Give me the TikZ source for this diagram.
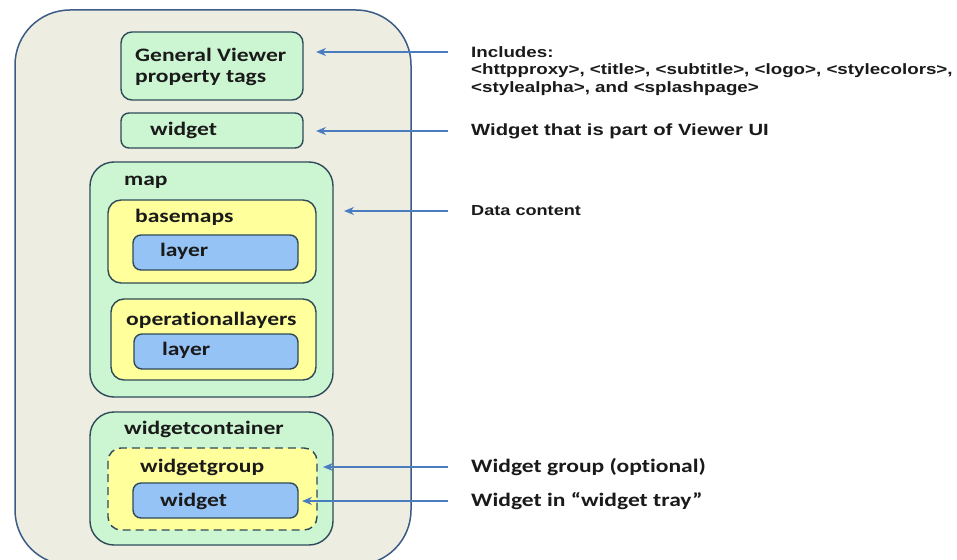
\documentclass[tikz,border=0pt]{standalone}
\usepackage{fontspec}
\setmainfont[FakeStretch=1.24, Ligatures=NoCommon]{Carlito}
\newfontfamily\arialfont[FakeStretch=1.25]{Liberation Sans}
\usetikzlibrary{arrows.meta}
\definecolor{outerfill}{HTML}{EDEDE1}
\definecolor{outerline}{HTML}{3C5B86}
\definecolor{boxline}{HTML}{2E4A58}
\definecolor{mintfill}{HTML}{CCF6D2}
\definecolor{lemonfill}{HTML}{FFFF9C}
\definecolor{skyfill}{HTML}{96C3F5}
\definecolor{arrowblue}{HTML}{4A7CC0}
\definecolor{txt}{HTML}{1A1A1A}
\tikzset{
  px/.style={x=1pt,y=-1pt},
  boxlabel/.style={font=\bfseries\fontsize{19}{23}\selectfont, text=txt, inner sep=0pt},
  tagnote/.style={font=\arialfont\bfseries\fontsize{15}{18}\selectfont, text=txt, inner sep=0pt, anchor=west},
  mint/.style={draw=boxline, line width=1.4pt, fill=mintfill},
  lemon/.style={draw=boxline, line width=1.4pt, fill=lemonfill},
  sky/.style={draw=boxline, line width=1.4pt, fill=skyfill},
  pointer/.style={draw=arrowblue, line width=1.4pt, -{Stealth[length=10pt,width=8pt]}},
}
\begin{document}
\begin{tikzpicture}[px]
\useasboundingbox (0,0) rectangle (957,559);
\fill[white] (0,0) rectangle (957,559);

% outer container
\draw[draw=outerline, line width=1.5pt, fill=outerfill, rounded corners=55pt]
  (15,10) rectangle (411,565);

% top-level tags
\draw[mint, rounded corners=11pt] (121,32) rectangle (303,100);
\node[boxlabel, anchor=west] (gv) at (135,55) {General Viewer};
\node[boxlabel, anchor=west] (gvb) at (135,78) {property tags};
\coordinate (gvR) at (316,52);

\draw[mint, rounded corners=8pt] (121,113) rectangle (303,148);
\node[boxlabel, anchor=west] (w1) at (150,130) {widget};
\coordinate (w1R) at (316,131);

% map section
\draw[mint, rounded corners=24pt] (90,162) rectangle (333,397);
\node[boxlabel, anchor=west] (map) at (124,182) {map};
\coordinate (mapR) at (344,211);

\draw[lemon, rounded corners=13pt] (108,200) rectangle (316,283);
\node[boxlabel, anchor=west] (bm) at (135,217) {basemaps};
\draw[sky, rounded corners=8pt] (133,235) rectangle (298,270);
\node[boxlabel, anchor=west] (l1) at (160,251) {layer};

\draw[lemon, rounded corners=13pt] (111,299) rectangle (316,380);
\node[boxlabel, anchor=west] (ol) at (126,320) {operationallayers};
\draw[sky, rounded corners=8pt] (134,334) rectangle (298,369);
\node[boxlabel, anchor=west] (l2) at (162,350) {layer};

% widget container
\draw[mint, rounded corners=24pt] (90,412) rectangle (333,545);
\node[boxlabel, anchor=west] (wc) at (124,429) {widgetcontainer};
\draw[lemon, dash pattern=on 8pt off 5pt, rounded corners=13pt] (108,448) rectangle (317,530);
\node[boxlabel, anchor=west] (wg) at (140,467) {widgetgroup};
\draw[sky, rounded corners=8pt] (133,483) rectangle (298,518);
\node[boxlabel, anchor=west] (w2) at (160,501) {widget};
\coordinate (wgR) at (323,467);
\coordinate (w2R) at (302,501);

% notes
\node[tagnote] (n1) at (471,52) {Includes:};
\node[tagnote] (n1b) at (471,71) {<httpproxy>, <title>, <subtitle>, <logo>, <stylecolors>,};
\node[tagnote] (n1c) at (471,89) {<stylealpha>, and <splashpage>};
\node[tagnote, font=\arialfont\bfseries\fontsize{16.2}{19}\selectfont] (n2) at (471,131) {Widget that is part of Viewer UI};
\node[tagnote, font=\arialfont\bfseries\fontsize{14.5}{18}\selectfont] (n3) at (471,211) {Data content};
\node[boxlabel, anchor=west] (n4) at (471,467) {Widget group (optional)};
\node[boxlabel, anchor=west] (n5) at (471,501) {Widget in “widget tray”};

% pointers
\coordinate (s1) at (448,52);
\coordinate (s2) at (448,131);
\coordinate (s3) at (448,211);
\coordinate (s4) at (448,467);
\coordinate (s5) at (448,501);
\draw[pointer] (s1) -- (gvR);
\draw[pointer] (s2) -- (w1R);
\draw[pointer] (s3) -- (mapR);
\draw[pointer] (s4) -- (wgR);
\draw[pointer] (s5) -- (w2R);
\end{tikzpicture}
\end{document}
